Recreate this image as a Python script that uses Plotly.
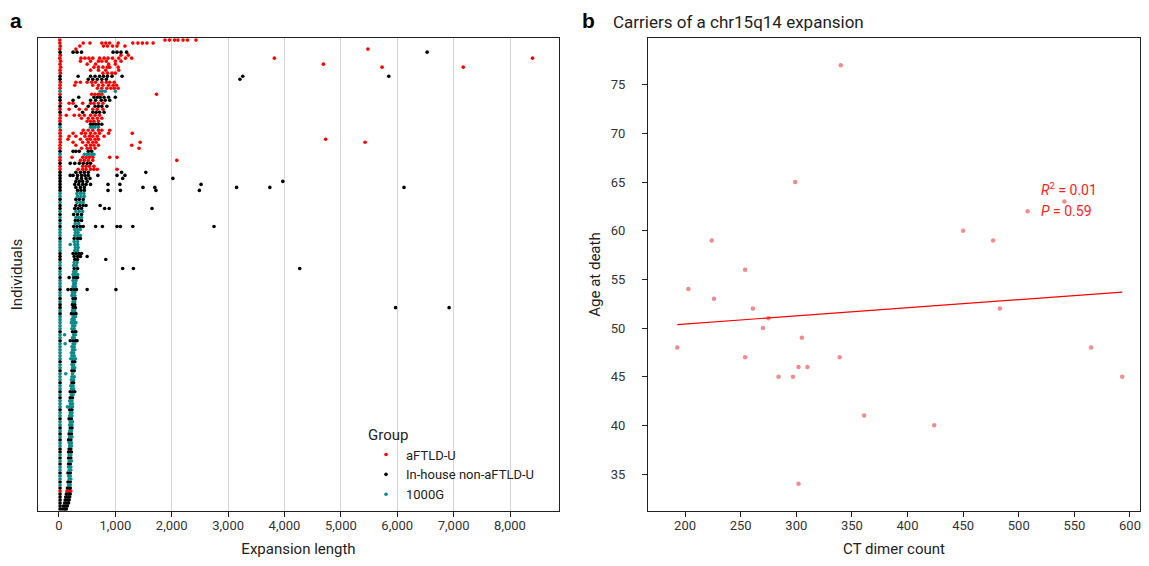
import numpy as np
import plotly.graph_objects as go

# ---------------- Panel a data: one row per individual (top -> bottom) ----------------
# group codes: R = aFTLD-U, K = In-house non-aFTLD-U, T = 1000G
rows = [
    ("R", [15, 1880, 1960, 2050, 2110, 2200, 2280, 2430]),
    ("R", [15, 430, 550, 760, 830, 900, 1050, 1310, 1400, 1480, 1560, 1670]),
    ("R", [25, 370, 790, 860, 950, 1030, 1170]),
    ("R", [15, 300, 5480]),
    ("K", [20, 250, 320, 400, 960, 1030, 1100, 1200, 6530]),
    ("R", [25, 1100, 1230]),
    ("R", [15, 390, 460, 530, 600, 720, 800, 870, 950, 1060, 1180, 1290, 3820, 8400]),
    ("R", [30, 380, 560, 700, 760, 840, 1000, 1100]),
    ("R", [20, 500, 650, 880, 1000, 4690]),
    ("R", [30, 620, 700, 780, 860, 900, 1050, 5730, 7170]),
    ("R", [20, 560, 700, 830, 1060]),
    ("R", [25, 780, 860, 940, 1000]),
    ("K", [20, 340, 560, 640, 720, 790, 860, 940, 1120, 3260, 5850]),
    ("K", [20, 520, 600, 680, 760, 840, 3210]),
    ("R", [25, 300, 380, 500, 580, 650, 760, 840, 900, 980]),
    ("R", [20, 280, 600, 700, 780, 880, 960, 1020]),
    ("R", [20, 680, 760, 850, 920, 980, 1050]),
    ("T", [20, 730, 770, 820, 1000]),
    ("R", [20, 580, 640, 700, 760, 1730]),
    ("K", [20, 350, 620, 680, 730, 800, 880, 1000]),
    ("K", [20, 250, 560, 650, 750, 820, 900]),
    ("R", [25, 180, 250, 420, 560, 620, 700, 780]),
    ("K", [20, 300, 520, 640, 700, 760, 850]),
    ("R", [20, 180, 360, 480, 600, 680, 780]),
    ("K", [20, 420, 600, 660, 720, 800]),
    ("R", [25, 130, 270, 360, 450, 560, 640, 720]),
    ("R", [20, 400, 520, 600, 680, 760]),
    ("R", [20, 500, 560, 620, 700]),
    ("K", [20, 560, 600, 650, 700, 760]),
    ("T", [20, 560, 600, 640, 700]),
    ("R", [25, 430, 520, 600, 700, 760, 900]),
    ("R", [20, 250, 400, 470, 560, 640, 720, 880, 1300]),
    ("R", [25, 180, 300, 460, 540, 600, 680, 800]),
    ("R", [20, 160, 380, 500, 560, 640, 700, 4730]),
    ("R", [25, 250, 420, 520, 600, 660, 1440, 5430]),
    ("R", [20, 300, 480, 560, 620, 700, 1290]),
    ("R", [20, 400, 500, 560, 640, 1420]),
    ("K", [20, 250, 300, 360, 520, 580]),
    ("T", [20, 450, 500, 540, 580, 620]),
    ("R", [20, 230, 420, 480, 540, 600, 900, 1030]),
    ("R", [20, 380, 450, 520, 600, 2090]),
    ("K", [20, 200, 280, 360, 430, 500, 560]),
    ("R", [20, 420, 480, 540, 620]),
    ("R", [20, 340, 420, 480, 560, 620, 680, 1030]),
    ("K", [20, 300, 380, 450, 520, 1110, 1540]),
    ("K", [20, 200, 250, 330, 400, 460, 520, 690, 1030, 1170]),
    ("K", [20, 320, 400, 480, 550, 1130, 2020]),
    ("K", [20, 300, 360, 420, 500, 3970]),
    ("K", [20, 280, 350, 420, 480, 560, 870, 1080, 2520]),
    ("K", [20, 300, 380, 450, 1490, 1700, 3150, 3740, 6120]),
    ("K", [20, 330, 390, 450, 870, 1090, 1720, 2490]),
    ("T", [20, 320, 380, 440]),
    ("T", [20, 330, 390, 450]),
    ("K", [20, 300, 360, 430]),
    ("T", [20, 320, 380, 430]),
    ("K", [20, 300, 370, 430, 480, 730]),
    ("K", [20, 280, 340, 400, 810, 890, 1650]),
    ("T", [20, 300, 360, 420]),
    ("K", [20, 260, 330, 400]),
    ("T", [20, 300, 350, 400]),
    ("K", [20, 290, 340, 400]),
    ("T", [20, 290, 350]),
    ("K", [20, 260, 320, 380, 430, 650, 770, 1030, 1090, 1310, 2750]),
    ("T", [20, 280, 330, 380]),
    ("T", [20, 290, 340]),
    ("T", [20, 280, 330, 380]),
    ("K", [20, 270, 330, 380]),
    ("T", [20, 270, 330]),
    ("T", [20, 200, 280, 330]),
    ("T", [20, 290, 340]),
    ("T", [20, 280, 330]),
    ("K", [20, 250, 300, 350, 400]),
    ("K", [20, 270, 330, 380, 500]),
    ("K", [20, 280, 330, 830]),
    ("T", [20, 270, 320]),
    ("T", [20, 260, 310]),
    ("K", [20, 270, 330, 1130, 1320, 4270]),
    ("T", [20, 260, 300]),
    ("T", [20, 250, 290, 330]),
    ("K", [20, 180, 260, 300, 330]),
    ("T", [20, 250, 300]),
    ("T", [20, 260, 290]),
    ("T", [20, 250, 290]),
    ("K", [20, 160, 220, 270, 310, 500, 1010]),
    ("T", [20, 240, 280]),
    ("T", [20, 230, 280]),
    ("K", [20, 250, 290]),
    ("T", [20, 250, 280]),
    ("K", [20, 240, 280]),
    ("K", [20, 250, 290, 5970, 6920]),
    ("T", [20, 240, 280]),
    ("K", [20, 220, 260, 300]),
    ("T", [20, 250, 290]),
    ("T", [20, 230, 270]),
    ("T", [20, 220, 260, 300]),
    ("T", [20, 240, 280]),
    ("T", [20, 230, 270]),
    ("K", [20, 240, 280, 300]),
    ("T", [20, 100, 260, 290]),
    ("T", [20, 240, 270]),
    ("K", [20, 200, 250, 290, 320]),
    ("T", [20, 110, 250, 280]),
    ("T", [20, 230, 270]),
    ("T", [20, 240, 280]),
    ("T", [20, 220, 260]),
    ("T", [20, 230, 270]),
    ("T", [20, 210, 250, 290]),
    ("K", [20, 240, 280]),
    ("T", [20, 230, 260]),
    ("T", [20, 240, 280]),
    ("K", [20, 230, 270]),
    ("T", [20, 120, 240]),
    ("T", [20, 230, 270]),
    ("T", [20, 220, 260]),
    ("K", [20, 230, 260]),
    ("T", [20, 210, 250]),
    ("T", [20, 220, 260]),
    ("K", [20, 200, 240, 280]),
    ("T", [20, 220, 250]),
    ("K", [20, 200, 240]),
    ("T", [20, 190, 230]),
    ("T", [20, 200, 240]),
    ("T", [20, 150, 200, 240]),
    ("K", [20, 190, 230]),
    ("T", [20, 200, 230]),
    ("T", [20, 190, 230]),
    ("K", [20, 180, 220]),
    ("T", [20, 200, 240]),
    ("T", [20, 190, 230]),
    ("K", [20, 200, 230]),
    ("T", [20, 190, 220]),
    ("K", [20, 180, 220]),
    ("T", [20, 190, 230]),
    ("K", [20, 170, 210]),
    ("T", [20, 180, 220]),
    ("T", [20, 190, 220]),
    ("K", [20, 180, 210]),
    ("K", [20, 170, 220]),
    ("T", [20, 180, 210]),
    ("K", [20, 170, 210]),
    ("T", [20, 180, 220]),
    ("K", [20, 170, 200]),
    ("T", [20, 170, 210]),
    ("T", [20, 180, 210]),
    ("K", [20, 160, 200]),
    ("T", [20, 170, 200]),
    ("T", [20, 180, 210]),
    ("K", [20, 160, 200]),
    ("T", [20, 170, 200]),
    ("K", [20, 150, 180, 200]),
    ("R", [20, 140, 180, 210]),
    ("K", [20, 130, 170, 200]),
    ("K", [20, 120, 160, 190]),
    ("K", [20, 110, 150, 180]),
    ("K", [20, 100, 140, 170]),
    ("K", [20, 80, 120, 150]),
    ("K", [20, 60, 100, 130]),
]

group_names = {"R": "aFTLD-U", "K": "In-house non-aFTLD-U", "T": "1000G"}
group_colors = {"R": "#FF0000", "K": "#000000", "T": "#0A8A8A"}
x_ticks_a = [0, 1000, 2000, 3000, 4000, 5000, 6000, 7000, 8000]

# ---------------- Panel b data ----------------
ct_dimer = [193, 203, 224, 226, 254, 254, 261, 270, 275, 284, 299, 297, 305, 302,
            310, 302, 340, 339, 361, 424, 450, 477, 483, 508, 541, 565, 593]
age_death = [48, 54, 59, 53, 56, 47, 52, 50, 51, 45, 65, 45, 49, 46,
             46, 34, 77, 47, 41, 40, 60, 59, 52, 62, 63, 48, 45]
y_ticks_b = [35, 40, 45, 50, 55, 60, 65, 70, 75]
x_ticks_b = [200, 250, 300, 350, 400, 450, 500, 550, 600]

FONT = "Roboto, Arial, sans-serif"
fig = go.Figure()

for code in ["R", "K", "T"]:
    xs, ys = [], []
    for idx, (g, vals) in enumerate(rows):
        if g == code:
            xs.extend(vals)
            ys.extend([idx] * len(vals))
    fig.add_trace(go.Scatter(
        x=xs, y=ys, mode="markers", name=group_names[code],
        marker=dict(color=group_colors[code], size=3.6, line=dict(width=0)),
        xaxis="x", yaxis="y", showlegend=True))

# panel b
fig.add_trace(go.Scatter(
    x=ct_dimer, y=age_death, mode="markers",
    marker=dict(color="rgba(240,120,120,0.85)", size=4.5, line=dict(width=0)),
    xaxis="x2", yaxis="y2", showlegend=False))

slope, intercept = np.polyfit(ct_dimer, age_death, 1)
lx = np.array([min(ct_dimer), max(ct_dimer)])
fig.add_trace(go.Scatter(
    x=lx, y=slope * lx + intercept, mode="lines",
    line=dict(color="#FF0000", width=1.2),
    xaxis="x2", yaxis="y2", showlegend=False))

n_rows = len(rows)
# the page body adds an 8px margin on every side
OFF = 8
W, H = 1149 - 2 * OFF, 566 - 2 * OFF


def fx(px):
    return (px - OFF) / W


def fy(py):
    return (H - (py - OFF)) / H


axis_common = dict(showline=True, linecolor="#222", linewidth=1, mirror=True,
                   ticks="outside", ticklen=5, tickcolor="#222", automargin=False,
                   tickfont=dict(family=FONT, size=13, color="#333"), zeroline=False)

fig.update_layout(
    width=W, height=H,
    margin=dict(l=0, r=0, t=0, b=0),
    paper_bgcolor="white", plot_bgcolor="white",
    font=dict(family=FONT, color="#222"),
    xaxis=dict(domain=[fx(38), fx(559)], range=[-372, 8869],
               tickvals=x_ticks_a, tickformat=",", ticklabelstandoff=-3,
               showgrid=True, gridcolor="#d6d6d6", gridwidth=1,
               title=dict(text="Expansion length", font=dict(size=15, family=FONT, color="#222"),
                          standoff=18),
               **axis_common),
    yaxis=dict(domain=[fy(511), fy(38)], range=[n_rows - 0.35, -0.7],
               showticklabels=False, showgrid=False, showline=True, linecolor="#222",
               linewidth=1, mirror=True, ticks="", zeroline=False, automargin=False,
               title=dict(text="Individuals", font=dict(size=15, family=FONT, color="#222"),
                          standoff=11)),
    xaxis2=dict(domain=[fx(648), fx(1140)], range=[166.7, 609], anchor="y2",
                tickvals=x_ticks_b, showgrid=False, ticklabelstandoff=-3,
                title=dict(text="CT dimer count", font=dict(size=15, family=FONT, color="#222"),
                           standoff=18),
                **axis_common),
    yaxis2=dict(domain=[fy(511), fy(38)], range=[31.2, 79.8], anchor="x2",
                tickvals=y_ticks_b, showgrid=False, ticklabelstandoff=14,
                title=dict(text="Age at death", font=dict(size=15, family=FONT, color="#222"),
                           standoff=6),
                **axis_common),
    legend=dict(x=fx(366), y=fy(420), xanchor="left", yanchor="top",
                bgcolor="rgba(0,0,0,0)", itemwidth=30,
                title=dict(text="Group", font=dict(size=15, family=FONT, color="#222")),
                font=dict(size=13, family=FONT, color="#222"),
                tracegroupgap=0, itemsizing="trace"),
)

fig.add_annotation(x=fx(8), y=fy(20), xref="paper", yref="paper",
                   text="<b>a</b>", showarrow=False, xanchor="left", yanchor="middle",
                   font=dict(size=21, family="Arial, sans-serif", color="#000"))
fig.add_annotation(x=fx(580), y=fy(20), xref="paper", yref="paper",
                   text="<b>b</b>", showarrow=False, xanchor="left", yanchor="middle",
                   font=dict(size=21, family="Arial, sans-serif", color="#000"))
fig.add_annotation(x=fx(611), y=fy(22), xref="paper", yref="paper",
                   text="Carriers of a chr15q14 expansion", showarrow=False,
                   xanchor="left", yanchor="middle",
                   font=dict(size=17, family=FONT, color="#222"))
fig.add_annotation(x=518, y=64.3, xref="x2", yref="y2",
                   text="<i>R</i><sup>2</sup> = 0.01", showarrow=False,
                   xanchor="left", yanchor="middle",
                   font=dict(size=14, family=FONT, color="#FF2020"))
fig.add_annotation(x=518, y=62.0, xref="x2", yref="y2",
                   text="<i>P</i> = 0.59", showarrow=False,
                   xanchor="left", yanchor="middle",
                   font=dict(size=14, family=FONT, color="#FF2020"))

fig.write_html("out.html")
